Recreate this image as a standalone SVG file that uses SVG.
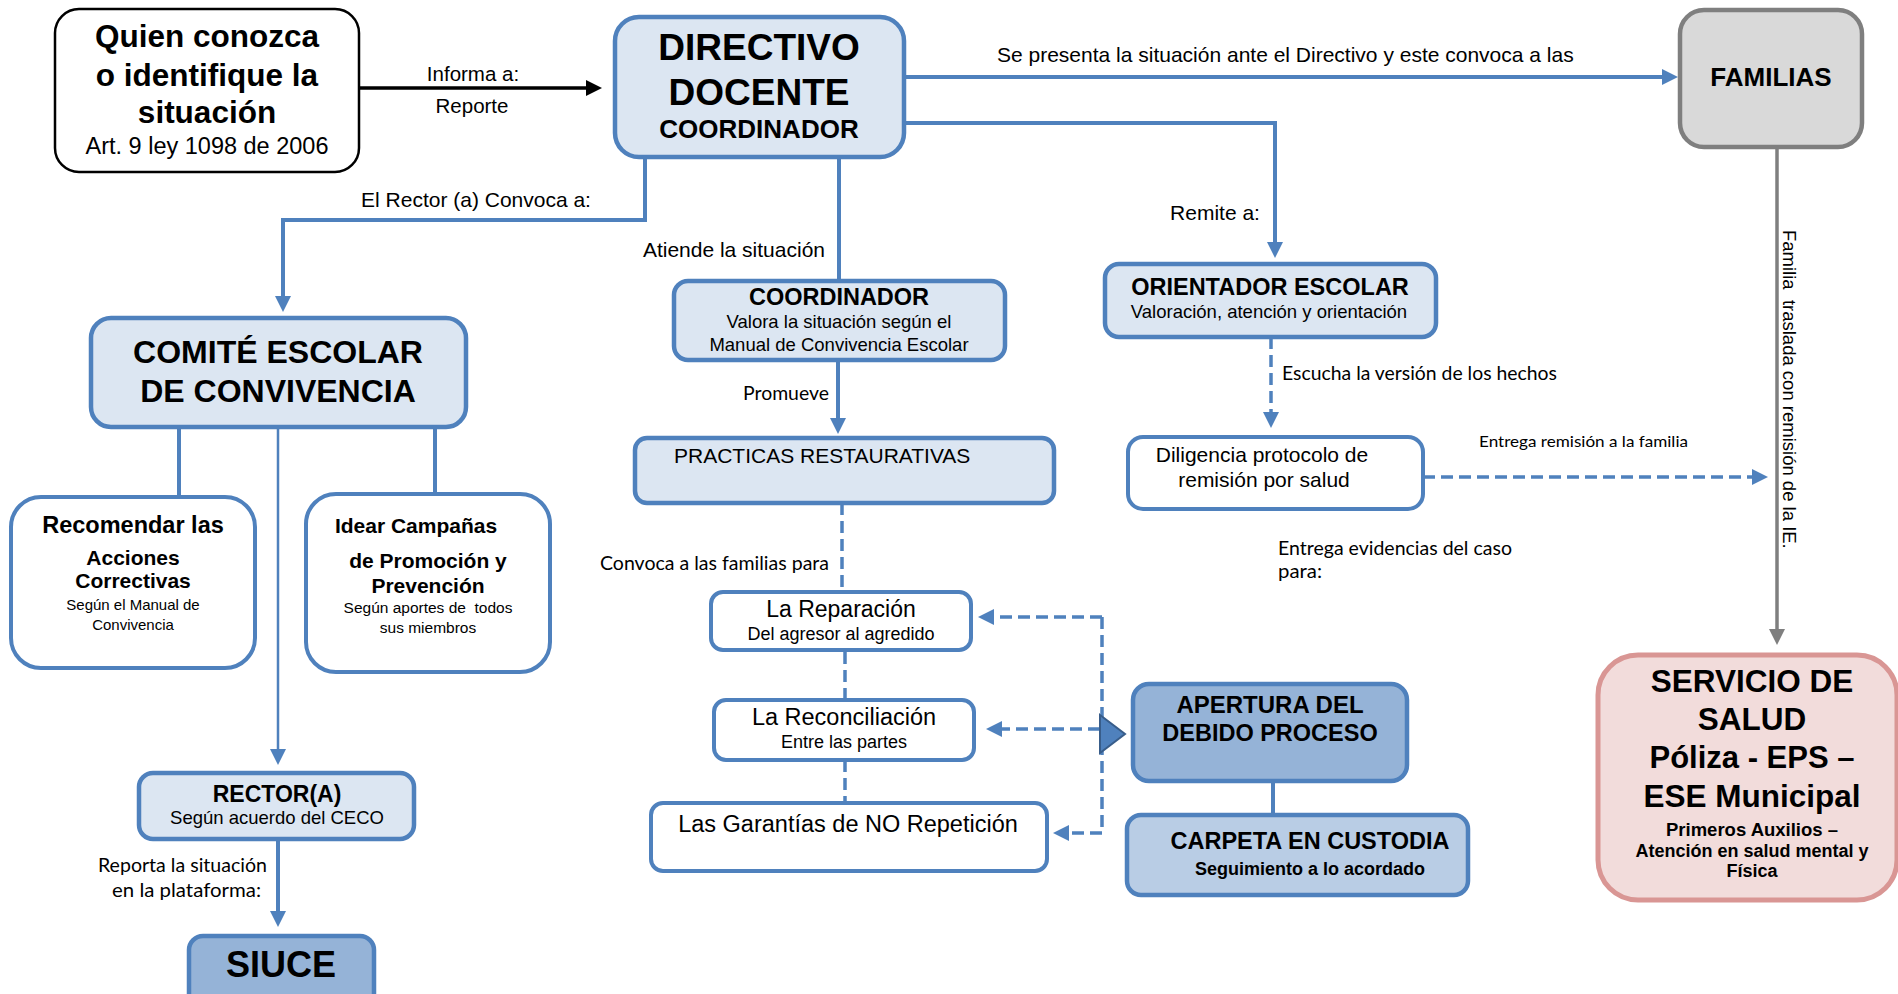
<svg xmlns="http://www.w3.org/2000/svg" width="1898" height="994" viewBox="0 0 1898 994">
<style>
text{font-family:"Liberation Sans",Arial,sans-serif;fill:#000}
.b{font-weight:bold}
.m{text-anchor:middle}
.e{text-anchor:end}
.c{font-family:Lato,"Liberation Sans",sans-serif}
.lb{fill:#DCE6F2;stroke:#4F81BD;stroke-width:4.5}
.wb{fill:#FFFFFF;stroke:#4F81BD;stroke-width:4}
.mb{fill:#95B3D7;stroke:#4F81BD;stroke-width:4.5}
.cn{fill:none;stroke:#4F81BD;stroke-width:4}
.th{fill:none;stroke:#4F81BD;stroke-width:2.5}
.ds{fill:none;stroke:#4F81BD;stroke-width:3.5;stroke-dasharray:12 6}
</style>
<defs>
<marker id="ab" markerUnits="userSpaceOnUse" markerWidth="16" markerHeight="16" refX="9" refY="8" orient="auto"><path d="M0,0 L16,8 L0,16 Z" fill="#4F81BD"/></marker>
<marker id="ak" markerUnits="userSpaceOnUse" markerWidth="16" markerHeight="16" refX="9" refY="8" orient="auto"><path d="M0,0 L16,8 L0,16 Z" fill="#000"/></marker>
<marker id="ag" markerUnits="userSpaceOnUse" markerWidth="16" markerHeight="16" refX="9" refY="8" orient="auto"><path d="M0,0 L16,8 L0,16 Z" fill="#7F7F7F"/></marker>
</defs>
<rect width="1898" height="994" fill="#FFFFFF"/>

<g id="connectors">
<path d="M359,88 H595" fill="none" stroke="#000" stroke-width="3.5" marker-end="url(#ak)"/>
<path class="cn" d="M645,157 V220 H283 V305" marker-end="url(#ab)"/>
<path class="cn" d="M904,77 H1671" marker-end="url(#ab)"/>
<path class="cn" d="M904,123 H1275 V251" marker-end="url(#ab)"/>
<path class="cn" d="M839,157 V281"/>
<path class="cn" d="M838,360 V427" marker-end="url(#ab)"/>
<path class="ds" d="M842,503 V592"/>
<path class="ds" d="M845,652 V700"/>
<path class="ds" d="M845,760 V803"/>
<path class="cn" d="M179,427 V497"/>
<path class="cn" d="M435,427 V494"/>
<path class="th" d="M278,427 V758" marker-end="url(#ab)"/>
<path class="cn" d="M278,839 V920" marker-end="url(#ab)"/>
<path class="ds" d="M1271,337 V421" marker-end="url(#ab)"/>
<path class="ds" d="M1423,477 H1761" marker-end="url(#ab)"/>
<path d="M1777,147 V638" fill="none" stroke="#7F7F7F" stroke-width="3.5" marker-end="url(#ag)"/>
<path class="ds" d="M1102,617 V833"/>
<path class="ds" d="M1102,617 H985" marker-end="url(#ab)"/>
<path class="ds" d="M1100,729 H993" marker-end="url(#ab)"/>
<path class="ds" d="M1102,833 H1060" marker-end="url(#ab)"/>
<path class="cn" d="M1273,781 V815"/>
<polygon points="1100,715 1125,734 1100,753" fill="#4F81BD" stroke="#385D8A" stroke-width="2"/>
<text x="473" y="81" class="m" font-size="20.5">Informa a:</text>
<text x="472" y="113" class="m" font-size="20.5">Reporte</text>
<text x="476" y="207" class="m" font-size="21">El Rector (a) Convoca a:</text>
<text x="997" y="62" font-size="21">Se presenta la situación ante el Directivo y este convoca a las</text>
<text x="1215" y="220" class="m" font-size="21">Remite a:</text>
<text x="825" y="257" class="e" font-size="21">Atiende la situación</text>
<text x="743" y="400" class="c" font-size="19" textLength="86" lengthAdjust="spacingAndGlyphs">Promueve</text>
<text x="600" y="570" class="c" font-size="19" textLength="229" lengthAdjust="spacingAndGlyphs">Convoca a las familias para</text>
<text x="1282" y="380" class="c" font-size="19" textLength="275" lengthAdjust="spacingAndGlyphs">Escucha la versión de los hechos</text>
<text x="1479" y="447" class="c" font-size="16" textLength="209" lengthAdjust="spacingAndGlyphs">Entrega remisión a la familia</text>
<text x="1278" y="555" class="c" font-size="19" textLength="234" lengthAdjust="spacingAndGlyphs">Entrega evidencias del caso</text>
<text x="1278" y="578" class="c" font-size="19" textLength="44" lengthAdjust="spacingAndGlyphs">para:</text>
<text x="98" y="872" class="c" font-size="19" textLength="169" lengthAdjust="spacingAndGlyphs">Reporta la situación</text>
<text x="112" y="897" class="c" font-size="19" textLength="149" lengthAdjust="spacingAndGlyphs">en la plataforma:</text>
<text transform="translate(1783,230) rotate(90)" font-size="18.5" style="white-space:pre">Familia  traslada con remisión de la IE.</text>
</g>

<g id="quien">
<rect x="55" y="9" width="304" height="163" rx="24" fill="#FFFFFF" stroke="#000" stroke-width="2.5"/>
<text x="207" y="47" class="b m" font-size="31.5">Quien conozca</text>
<text x="207" y="86" class="b m" font-size="31.5">o identifique la</text>
<text x="207" y="123" class="b m" font-size="31.5">situación</text>
<text x="207" y="154" class="m" font-size="23.5">Art. 9 ley 1098 de 2006</text>
</g>

<g id="directivo">
<rect x="615" y="17" width="289" height="140" rx="24" class="lb"/>
<text x="759" y="60" class="b m" font-size="37">DIRECTIVO</text>
<text x="759" y="105" class="b m" font-size="37">DOCENTE</text>
<text x="759" y="138" class="b m" font-size="26">COORDINADOR</text>
</g>

<g id="familias">
<rect x="1680" y="10" width="182" height="137" rx="24" fill="#D9D9D9" stroke="#7F7F7F" stroke-width="4.5"/>
<text x="1771" y="86" class="b m" font-size="26">FAMILIAS</text>
</g>

<g id="comite">
<rect x="91" y="318" width="375" height="109" rx="20" class="lb" stroke-width="5.5"/>
<text x="278" y="363" class="b m" font-size="32">COMITÉ ESCOLAR</text>
<text x="278" y="402" class="b m" font-size="32">DE CONVIVENCIA</text>
</g>

<g id="recomendar">
<rect x="11" y="497" width="244" height="171" rx="30" class="wb"/>
<text x="133" y="533" class="b m" font-size="23.5">Recomendar las</text>
<text x="133" y="565" class="b m" font-size="21">Acciones</text>
<text x="133" y="588" class="b m" font-size="21">Correctivas</text>
<text x="133" y="610" class="m" font-size="15">Según el Manual de</text>
<text x="133" y="630" class="m" font-size="15">Convivencia</text>
</g>

<g id="idear">
<rect x="306" y="494" width="244" height="178" rx="30" class="wb"/>
<text x="416" y="533" class="b m" font-size="21">Idear Campañas</text>
<text x="428" y="568" class="b m" font-size="21">de Promoción y</text>
<text x="428" y="593" class="b m" font-size="21">Prevención</text>
<text x="428" y="613" class="m" font-size="15.5" style="white-space:pre">Según aportes de  todos</text>
<text x="428" y="633" class="m" font-size="15.5">sus miembros</text>
</g>

<g id="rector">
<rect x="139" y="773" width="275" height="66" rx="14" class="lb"/>
<text x="277" y="802" class="b m" font-size="23">RECTOR(A)</text>
<text x="277" y="824" class="m" font-size="18.5">Según acuerdo del CECO</text>
</g>

<g id="siuce">
<rect x="189" y="936" width="185" height="72" rx="14" class="mb" stroke-width="5"/>
<text x="281" y="977" class="b m" font-size="36">SIUCE</text>
</g>

<g id="coordinador">
<rect x="674" y="281" width="331" height="79" rx="14" class="lb"/>
<text x="839" y="305" class="b m" font-size="23.5">COORDINADOR</text>
<text x="839" y="328" class="m" font-size="18.5">Valora la situación según el</text>
<text x="839" y="351" class="m" font-size="18.5">Manual de Convivencia Escolar</text>
</g>

<g id="practicas">
<rect x="635" y="438" width="419" height="65" rx="12" class="lb"/>
<text x="674" y="463" font-size="21">PRACTICAS RESTAURATIVAS</text>
</g>

<g id="reparacion">
<rect x="711" y="592" width="260" height="58" rx="12" class="wb"/>
<text x="841" y="617" class="m" font-size="23">La Reparación</text>
<text x="841" y="640" class="m" font-size="18">Del agresor al agredido</text>
</g>

<g id="reconciliacion">
<rect x="714" y="700" width="260" height="60" rx="12" class="wb"/>
<text x="844" y="725" class="m" font-size="23.5">La Reconciliación</text>
<text x="844" y="748" class="m" font-size="18">Entre las partes</text>
</g>

<g id="garantias">
<rect x="651" y="803" width="396" height="68" rx="12" class="wb"/>
<text x="848" y="832" class="m" font-size="23.5">Las Garantías de NO Repetición</text>
</g>

<g id="apertura">
<rect x="1133" y="684" width="274" height="97" rx="16" class="mb"/>
<text x="1270" y="713" class="b m" font-size="24">APERTURA DEL</text>
<text x="1270" y="741" class="b m" font-size="23.5">DEBIDO PROCESO</text>
</g>

<g id="carpeta">
<rect x="1127" y="815" width="341" height="80" rx="14" fill="#B9CDE5" stroke="#4F81BD" stroke-width="4.5"/>
<text x="1310" y="849" class="b m" font-size="23.5">CARPETA EN CUSTODIA</text>
<text x="1310" y="875" class="b m" font-size="18">Seguimiento a lo acordado</text>
</g>

<g id="orientador">
<rect x="1105" y="264" width="331" height="73" rx="14" class="lb"/>
<text x="1270" y="295" class="b m" font-size="23.5">ORIENTADOR ESCOLAR</text>
<text x="1269" y="318" class="m" font-size="18.5">Valoración, atención y orientación</text>
</g>

<g id="diligencia">
<rect x="1128" y="437" width="295" height="72" rx="15" class="wb"/>
<text x="1262" y="462" class="m" font-size="21">Diligencia protocolo de</text>
<text x="1264" y="487" class="m" font-size="21">remisión por salud</text>
</g>

<g id="servicio">
<rect x="1598" y="655" width="299" height="245" rx="40" fill="#F2DCDB" stroke="#D99694" stroke-width="5"/>
<text x="1752" y="692" class="b m" font-size="31.5">SERVICIO DE</text>
<text x="1752" y="730" class="b m" font-size="31.5">SALUD</text>
<text x="1752" y="768" class="b m" font-size="31">Póliza - EPS –</text>
<text x="1752" y="807" class="b m" font-size="31.5">ESE Municipal</text>
<text x="1752" y="836" class="b m" font-size="18.5">Primeros Auxilios –</text>
<text x="1752" y="857" class="b m" font-size="18">Atención en salud mental y</text>
<text x="1752" y="877" class="b m" font-size="18">Física</text>
</g>
</svg>
